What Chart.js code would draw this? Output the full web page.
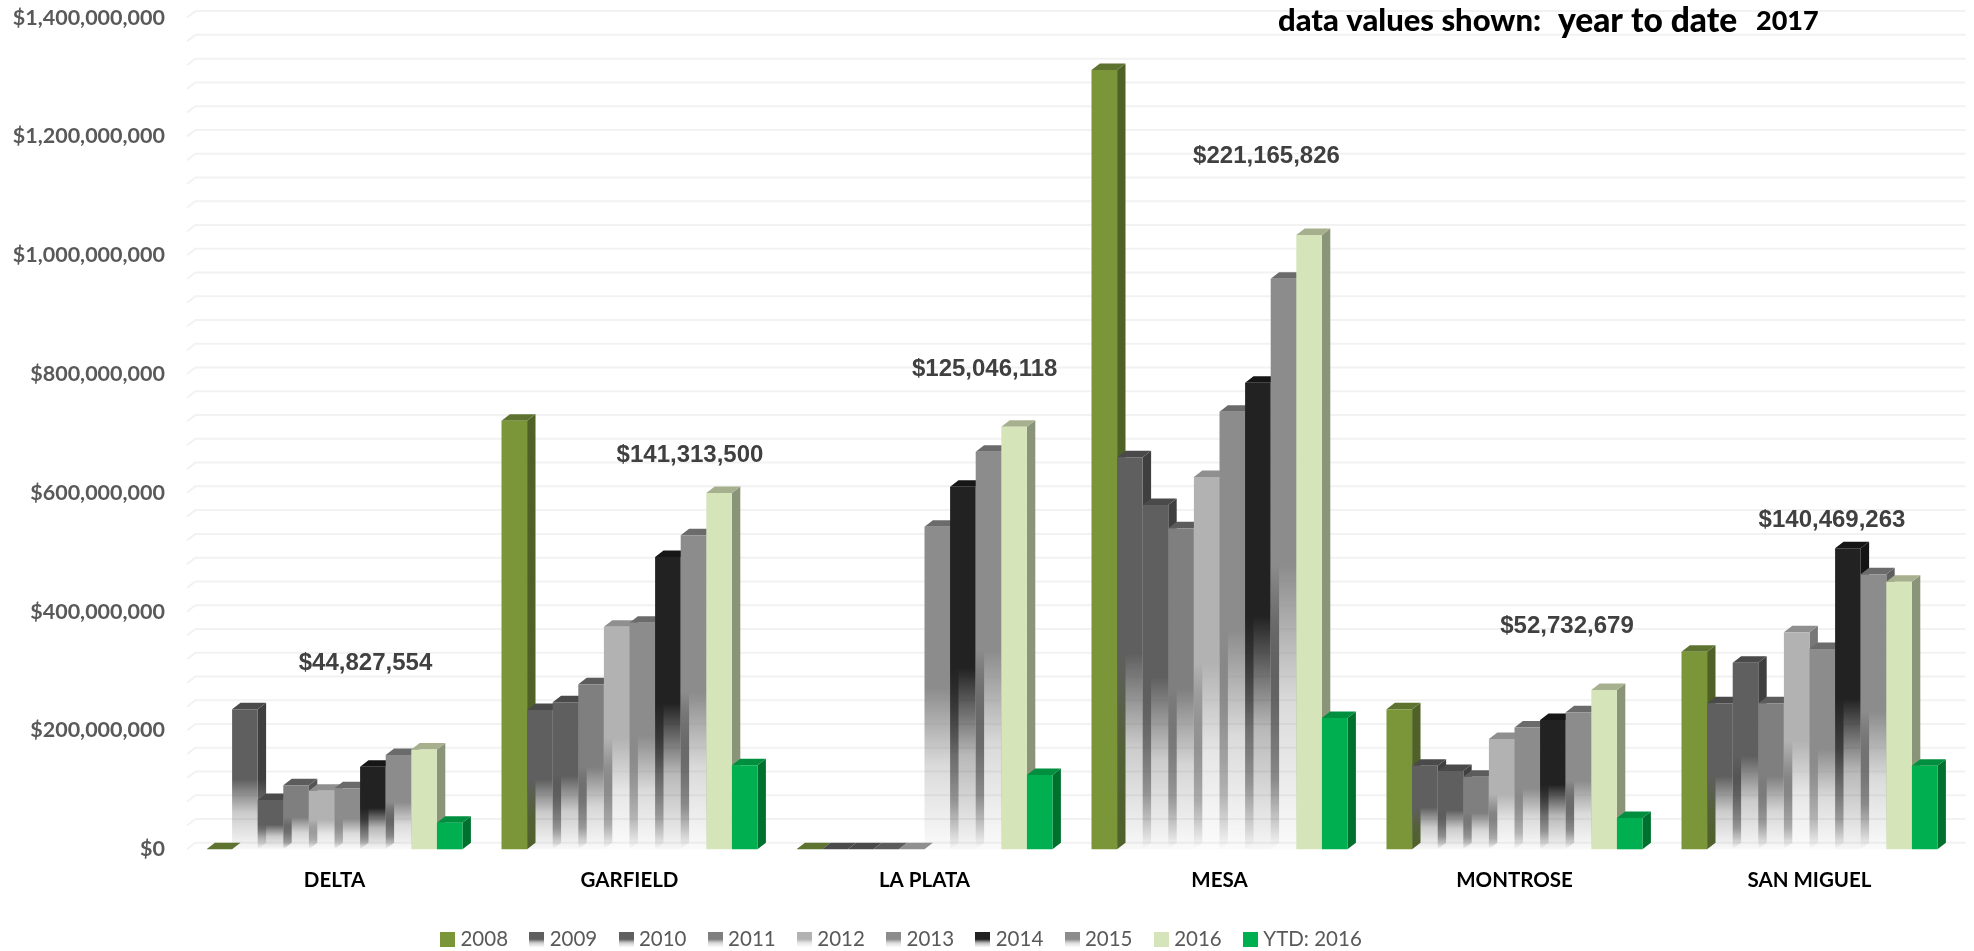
<!DOCTYPE html>
<html>
<head>
<meta charset="utf-8">
<title>data values shown: year to date 2017</title>
<script src="https://cdn.jsdelivr.net/npm/chart.js@4"></script>
<style>
    body { margin: 0; background: #fff; }
    canvas { display: block; }
</style>
</head>
<body>
<canvas id="grafico" width="1974" height="951"></canvas>
<script>
const counties = ["DELTA", "GARFIELD", "LA PLATA", "MESA", "MONTROSE", "SAN MIGUEL"];
const seriesNames = ["2008", "2009", "2010", "2011", "2012", "2013", "2014", "2015", "2016", "YTD: 2016"];

// values, one array per year
const values2008 = [0, 721500000, 0, 1312000000, 235700000, 332600000];
const values2009 = [235700000, 234500000, 0, 660000000, 140700000, 245800000];
const values2010 = [83000000, 247500000, 0, 579600000, 131800000, 314000000];
const values2011 = [108000000, 277800000, 0, 540400000, 122000000, 245800000];
const values2012 = [98700000, 374800000, 0, 626800000, 185700000, 365300000];
const values2013 = [102600000, 381500000, 543000000, 736700000, 205000000, 337000000];
const values2014 = [139000000, 492000000, 610400000, 785500000, 217700000, 506700000];
const values2015 = [158700000, 528600000, 669400000, 960600000, 230600000, 463000000];
const values2016 = [168000000, 599800000, 711400000, 1034000000, 268000000, 450500000];
const valuesYtd = [44827554, 141313500, 125046118, 221165826, 52732679, 140469263];
const allValues = [values2008, values2009, values2010, values2011, values2012, values2013, values2014, values2015, values2016, valuesYtd];

const yMax = 1400000000;
const gridStep = 40000000;
const labelStep = 200000000;

// colours: front, side, top, and whether the bar fades out to the bottom
const frontColors = ["#7a9639", "#5f5f5f", "#5f5f5f", "#7f7f7f", "#b2b2b2", "#8c8c8c", "#222222", "#8c8c8c", "#d6e4ba", "#00b050"];
const sideColors = ["#4f6127", "#3f3f3f", "#3f3f3f", "#555555", "#777777", "#5e5e5e", "#151515", "#5e5e5e", "#8a9479", "#00702f"];
const topColors = ["#5e7330", "#4a4a4a", "#4a4a4a", "#5c5c5c", "#8f8f8f", "#6b6b6b", "#161616", "#6b6b6b", "#a6b08f", "#008f3f"];
const fades = [false, true, true, true, true, true, true, true, false, false];

const DEPTH_X = 8.4;
const DEPTH_Y = 6.5;
const CHART_W = 1974;
const CHART_H = 951;
const AREA_LEFT = 187;
const AREA_RIGHT = 1957;
const AREA_TOP = 17.6;
const AREA_BOTTOM = 849.3;
const LEGEND_H = 48.5;
const LEGEND_SHIFT = -75;

// text centres of the floating YTD labels
const ytdLabelX = [365.5, 690, 984.7, 1266.5, 1567, 1832];
const ytdLabelY = [663, 455, 369.3, 156.7, 626.7, 520];

const titleParts = [
    { text: "data values shown: ", font: "900 31px Lato", x: 1278 },
    { text: "year to date", font: "900 33.5px Lato", x: 1558 },
    { text: "2017", font: "900 27px Lato", x: 1756 }
];

function conAlfa(hex, alfa) {
    const n = parseInt(hex.slice(1), 16);
    return `rgba(${n >> 16}, ${(n >> 8) & 255}, ${n & 255}, ${alfa})`;
}

// front face: solid to the middle, then a quick fade
function degradado(ctx, color, yTop, yBase) {
    const g = ctx.createLinearGradient(0, yTop, 0, yBase);
    g.addColorStop(0, color);
    g.addColorStop(0.5, color);
    g.addColorStop(0.74, conAlfa(color, 0.32));
    g.addColorStop(1, conAlfa(color, 0.04));
    return g;
}

// side face keeps some colour longer, it shows through the next bar
function degradadoLado(ctx, color, yTop, yBase) {
    const g = ctx.createLinearGradient(0, yTop, 0, yBase);
    g.addColorStop(0, color);
    g.addColorStop(0.5, color);
    g.addColorStop(0.85, conAlfa(color, 0.5));
    g.addColorStop(1, conAlfa(color, 0));
    return g;
}

function crearMuestra(i) {
    const c = document.createElement("canvas");
    c.width = 15;
    c.height = 15;
    const ctx = c.getContext("2d");
    ctx.fillStyle = fades[i] ? degradado(ctx, frontColors[i], 0, 15) : frontColors[i];
    ctx.fillRect(0, 0, 15, 15);
    return c;
}

const muestras = seriesNames.map((_, i) => crearMuestra(i));

function dibujarCaras(ctx, bar, i) {
    const left = bar.x - bar.width / 2;
    const right = bar.x + bar.width / 2;

    ctx.fillStyle = fades[i] ? degradadoLado(ctx, sideColors[i], bar.y, bar.base) : sideColors[i];
    ctx.beginPath();
    ctx.moveTo(right, bar.y);
    ctx.lineTo(right + DEPTH_X, bar.y - DEPTH_Y);
    ctx.lineTo(right + DEPTH_X, bar.base - DEPTH_Y);
    ctx.lineTo(right, bar.base);
    ctx.closePath();
    ctx.fill();

    ctx.fillStyle = topColors[i];
    ctx.beginPath();
    ctx.moveTo(left, bar.y);
    ctx.lineTo(left + DEPTH_X, bar.y - DEPTH_Y);
    ctx.lineTo(right + DEPTH_X, bar.y - DEPTH_Y);
    ctx.lineTo(right, bar.y);
    ctx.closePath();
    ctx.fill();
}

const barras3d = {
    id: "barras3d",
    afterLayout(chart) {
        chart.legend.left += LEGEND_SHIFT;
        chart.legend.right += LEGEND_SHIFT;
    },
    beforeDraw(chart) {
        // back wall grid, set back by the depth of the bars
        const { ctx, chartArea, scales } = chart;
        ctx.save();
        ctx.strokeStyle = "#f2f2f2";
        ctx.lineWidth = 2;
        scales.y.ticks.forEach(tick => {
            const y = scales.y.getPixelForValue(tick.value);
            ctx.beginPath();
            ctx.moveTo(chartArea.left, y);
            ctx.lineTo(chartArea.left + DEPTH_X, y - DEPTH_Y);
            ctx.lineTo(chartArea.right + DEPTH_X, y - DEPTH_Y);
            ctx.stroke();
        });
        ctx.restore();
    },
    beforeDatasetsDraw(chart) {
        // left to right, so each bar covers the side of the one before it
        const { ctx } = chart;
        allValues.forEach((_, i) => {
            const meta = chart.getDatasetMeta(i);
            meta.data.forEach(bar => dibujarCaras(ctx, bar, i));
            meta.controller.draw();
        });
        return false;
    },
    afterDraw(chart) {
        const { ctx } = chart;
        ctx.save();
        ctx.textBaseline = "middle";

        ctx.textAlign = "center";
        ctx.fillStyle = "#404040";
        ctx.font = "bold 24px 'Liberation Sans'";
        valuesYtd.forEach((v, i) => {
            ctx.fillText("$" + v.toLocaleString("en-US"), ytdLabelX[i], ytdLabelY[i]);
        });

        ctx.textAlign = "left";
        ctx.fillStyle = "#000000";
        titleParts.forEach(p => {
            ctx.font = p.font;
            ctx.fillText(p.text, p.x, 21);
        });
        ctx.restore();
    }
};

new Chart(document.getElementById("grafico"), {
    type: "bar",
    data: {
        labels: counties,
        datasets: allValues.map((values, i) => ({
            label: seriesNames[i],
            data: values,
            borderWidth: 0,
            backgroundColor: ctx => {
                const y = ctx.chart.scales.y;
                if (!fades[i] || !y || ctx.raw === undefined) return frontColors[i];
                return degradado(ctx.chart.ctx, frontColors[i], y.getPixelForValue(ctx.raw), y.getPixelForValue(0));
            }
        }))
    },
    options: {
        responsive: false,
        animation: false,
        events: [],
        categoryPercentage: 256 / 295,
        barPercentage: 1,
        layout: {
            autoPadding: false,
            padding: { left: 0, top: AREA_TOP, right: CHART_W - AREA_RIGHT, bottom: 0 }
        },
        scales: {
            x: {
                grid: { display: false },
                border: { display: false },
                afterFit: scale => { scale.height = CHART_H - AREA_BOTTOM - LEGEND_H; },
                ticks: {
                    autoSkip: false,
                    maxRotation: 0,
                    padding: 11,
                    color: "#000000",
                    font: { family: "Lato", size: 20.5, weight: "bold" }
                }
            },
            y: {
                min: 0,
                max: yMax,
                grid: { display: false, drawTicks: false },
                border: { display: false },
                afterFit: scale => {
                    scale.width = AREA_LEFT;
                    scale.paddingTop = 0;
                    scale.paddingBottom = 0;
                },
                ticks: {
                    stepSize: gridStep,
                    autoSkip: false,
                    padding: 22,
                    color: "#595959",
                    font: { family: "Lato", size: 21.5, weight: "bold" },
                    callback: value => value % labelStep === 0 ? "$" + value.toLocaleString("en-US") : ""
                }
            }
        },
        plugins: {
            tooltip: { enabled: false },
            legend: {
                position: "bottom",
                maxHeight: LEGEND_H,
                labels: {
                    usePointStyle: true,
                    pointStyleWidth: 5,
                    padding: 26.4,
                    color: "#595959",
                    font: { family: "Lato", size: 20.5 },
                    generateLabels: () => seriesNames.map((name, i) => ({
                        text: name,
                        fontColor: "#595959",
                        fillStyle: frontColors[i],
                        strokeStyle: "transparent",
                        lineWidth: 0,
                        pointStyle: muestras[i],
                        datasetIndex: i
                    }))
                }
            }
        }
    },
    plugins: [barras3d]
});
</script>
</body>
</html>
